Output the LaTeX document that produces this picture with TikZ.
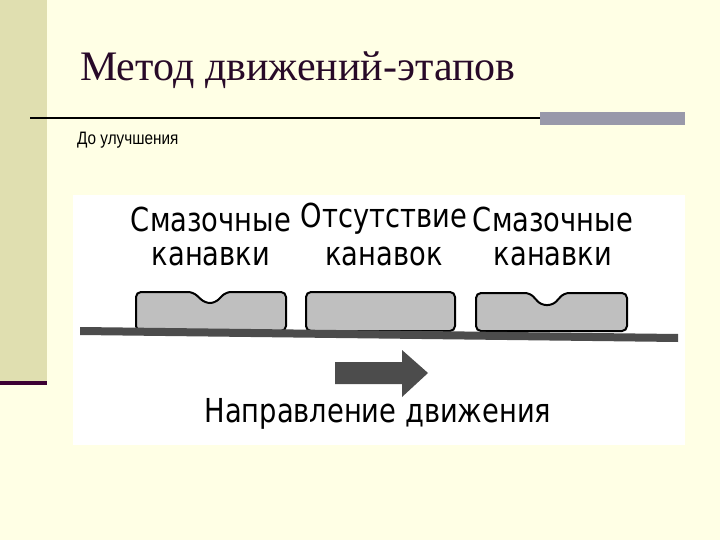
\documentclass[tikz,border=0pt]{standalone}
\usepackage{fontspec}
\setmainfont{Liberation Serif}
\newfontfamily\subf{Liberation Sans}
\newfontfamily\cond{DejaVu Sans Condensed}
\begin{document}
\begin{tikzpicture}[x=1pt,y=-1pt,
  lbl/.style={font=\cond\fontsize{33}{34}\selectfont, inner sep=0, xscale=0.92},
  blk/.style={draw=black, line width=2pt, fill=black!25, rounded corners=5pt}]
\useasboundingbox (0,0) rectangle (720,540);
\fill[fill={rgb,255:red,255;green,255;blue,229}] (0,0) rectangle (720,540);
\fill[fill={rgb,255:red,224;green,223;blue,176}] (0,0) rectangle (47,540);
\fill[fill={rgb,255:red,255;green,255;blue,229}] (0,385) rectangle (47,540);
\fill[fill={rgb,255:red,60;green,0;blue,50}] (0,381) rectangle (47,385);
\node[anchor=west, inner sep=0, text={rgb,255:red,40;green,10;blue,40}, font=\fontsize{42}{44}\selectfont] (title) at (80,70) {Метод движений-этапов};
\draw[line width=1.5pt, black] (30,118) -- (540,118);
\fill[fill={rgb,255:red,153;green,153;blue,170}] (540,112) rectangle (685,125);
\node[anchor=west, inner sep=0, xscale=0.85, font=\subf\fontsize{18}{20}\selectfont] (sub) at (77,140) {До улучшения};
\fill[white] (73,195) rectangle (685,445);
\node[lbl] (a1) at (211,219) {Смазочные};
\node[lbl] (a2) at (211,256) {канавки};
\node[lbl] (b1) at (384,219) {Отсутствие};
\node[lbl] (b2) at (384,256) {канавок};
\node[lbl] (c1) at (553,219) {Смазочные};
\node[lbl] (c2) at (553,256) {канавки};
\draw[blk] (136,331) -- (136,292) -- (193,292) -- (205,303) -- (215,303) -- (226,292) -- (286,292) -- (286,331) -- cycle;
\draw[blk] (306,331) -- (306,292) -- (455,292) -- (455,331) -- cycle;
\draw[blk] (476,331) -- (476,293) -- (530,293) -- (541,305) -- (553,305) -- (564,293) -- (627,293) -- (627,331) -- cycle;
\fill[black!70] (80,327) -- (678,334) -- (678,342) -- (80,335) -- cycle;
\fill[black!70] (335,362) -- (402,362) -- (402,350) -- (428,373) -- (402,397) -- (402,384) -- (335,384) -- cycle;
\node[lbl] (d) at (378,414) {Направление движения};
\end{tikzpicture}
\end{document}
